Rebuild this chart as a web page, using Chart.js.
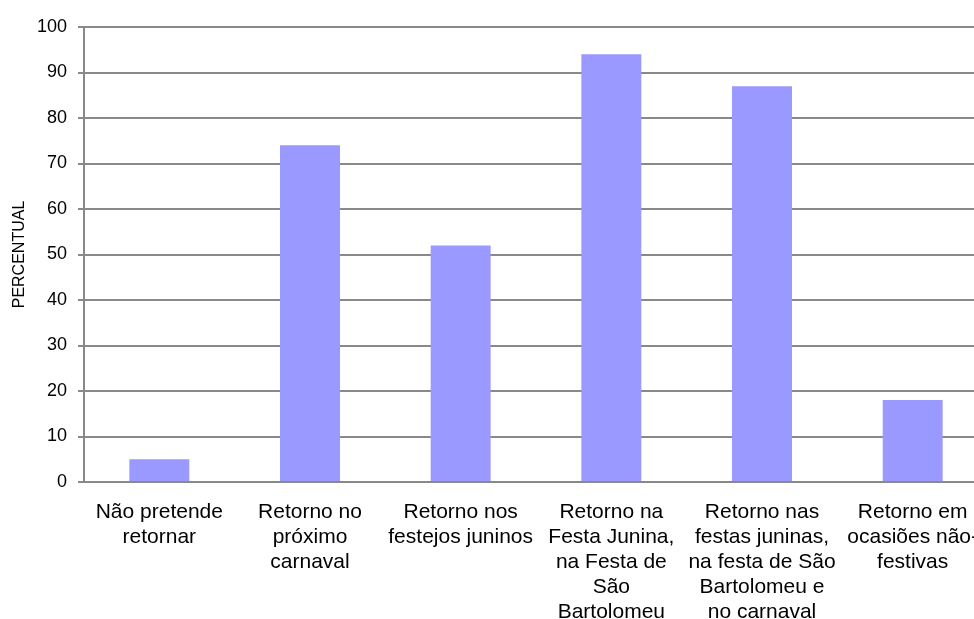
<!DOCTYPE html>
<html>
<head>
<meta charset="utf-8">
<script src="https://cdn.jsdelivr.net/npm/chart.js@4"></script>
<style>
  html, body { margin: 0; padding: 0; background: #fff; overflow: hidden; }
  #wrap { width: 974px; height: 619px; overflow: hidden; }
</style>
</head>
<body>
<!-- canvas is a bit wider than the window: the original plot is cut off on the right -->
<div id="wrap"><canvas id="myChart" width="988" height="619"></canvas></div>
<script>
const categories = [
  ["Não pretende", "retornar"],
  ["Retorno no", "próximo", "carnaval"],
  ["Retorno nos", "festejos juninos"],
  ["Retorno na", "Festa Junina,", "na Festa de", "São", "Bartolomeu"],
  ["Retorno nas", "festas juninas,", "na festa de São", "Bartolomeu e", "no carnaval"],
  ["Retorno em", "ocasiões não-", "festivas"]
];

const percentual = [5, 74, 52, 94, 87, 18];

const yTicks = [0, 10, 20, 30, 40, 50, 60, 70, 80, 90, 100];

var ctx = document.getElementById("myChart").getContext("2d");

var chart = new Chart(ctx, {
  type: "bar",
  data: {
    labels: categories,
    datasets: [
      {
        label: "PERCENTUAL",
        data: percentual,
        backgroundColor: "#9999ff",
        borderWidth: 0,
        barPercentage: 0.398,
        categoryPercentage: 1
      }
    ]
  },
  options: {
    responsive: false,
    animation: false,
    layout: { padding: { top: 27, right: 0, left: 0, bottom: 0 } },
    plugins: {
      legend: { display: false },
      tooltip: { enabled: false }
    },
    scales: {
      x: {
        grid: { display: false, drawTicks: false },
        border: { color: "#898989", width: 2 },
        ticks: {
          color: "#000",
          font: { family: "Liberation Sans, Arial, sans-serif", size: 21, lineHeight: 1.19 },
          padding: 18,
          maxRotation: 0,
          autoSkip: false
        },
        afterFit: function (scale) {
          scale.height = 137;
          scale.paddingLeft = 0;
          scale.paddingRight = 0;
        }
      },
      y: {
        min: 0,
        max: 100,
        afterBuildTicks: function (scale) {
          scale.ticks = yTicks.map(function (v) { return { value: v }; });
        },
        grid: { color: "#898989", lineWidth: 2, tickLength: 6 },
        border: { color: "#898989", width: 2 },
        ticks: {
          color: "#000",
          font: { family: "Liberation Sans, Arial, sans-serif", size: 18 },
          padding: 11
        },
        title: {
          display: true,
          text: "PERCENTUAL",
          color: "#000",
          font: { family: "Liberation Sans, Arial, sans-serif", size: 16 },
          padding: { top: 10, bottom: 0 }
        },
        afterFit: function (scale) { scale.width = 84; }
      }
    }
  }
});
</script>
</body>
</html>
